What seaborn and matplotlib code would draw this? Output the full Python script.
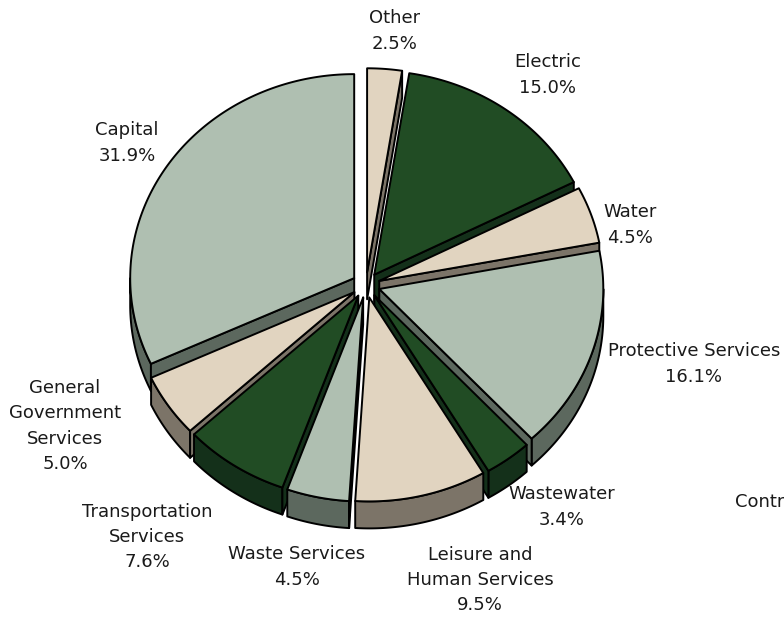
import numpy as np
import matplotlib
matplotlib.use("Agg")
import matplotlib.pyplot as plt
from matplotlib.patches import Polygon
import seaborn as sns

# Budget shares, listed clockwise from twelve o'clock
categories = ["Other", "Electric", "Water", "Protective Services", "Wastewater",
              "Leisure and\nHuman Services", "Waste Services",
              "Transportation\nServices", "General\nGovernment\nServices", "Capital"]
shares = [2.5, 15.0, 4.5, 16.1, 3.4, 9.5, 4.5, 7.6, 5.0, 31.9]
color_keys = ["beige", "green", "beige", "sage", "green",
              "beige", "sage", "green", "beige", "sage"]

sns.set_theme(style="white")
plt.rcParams["font.family"] = ["DejaVu Sans"]

face_palette = {"beige": "#E1D4C0", "green": "#214C24", "sage": "#AFBFB1"}
side_palette = {"beige": "#7C7468", "green": "#14301A", "sage": "#5C685E"}

# Layout of the tilted pie (pixel space, y grows downward)
CX, CY = 366.0, 285.0
RX, RY = 224.0, 204.0
DEPTH = 27.0
EXPLODE = 14.0
K = RY / RX

# Label anchors (centre of each text block)
label_pos = [(395, 31), (548, 75), (630, 225), (694, 364), (562, 507),
             (480, 580), (297, 567), (147, 537), (65, 426), (127, 143)]

fig = plt.figure(figsize=(7.84, 6.18), dpi=100)
ax = fig.add_axes([0, 0, 1, 1])
ax.set_xlim(0, 784)
ax.set_ylim(618, 0)
ax.axis("off")

LW = 1.4


def arc(t0, t1, ox, oy, dy=0.0):
    n = max(8, int(abs(t1 - t0) * 2))
    th = np.radians(np.linspace(t0, t1, n))
    return np.column_stack([CX + ox + RX * np.cos(th),
                            CY + oy + dy - RY * np.sin(th)])


def lower_parts(lo, hi):
    parts = []
    for k in (-2, -1, 0, 1):
        a = max(lo, -180 + 360 * k)
        b = min(hi, 360 * k)
        if b > a:
            parts.append((a, b))
    return parts


total = sum(shares)
starts, ends = [], []
cur = 90.0
for v in shares:
    span = 360.0 * v / total
    starts.append(cur)
    ends.append(cur - span)
    cur -= span

mids = [(s + e) / 2 for s, e in zip(starts, ends)]
order = sorted(range(len(shares)), key=lambda i: -np.sin(np.radians(mids[i])))

for i in order:
    ts, te, m = starts[i], ends[i], mids[i]
    ox = EXPLODE * np.cos(np.radians(m))
    oy = -EXPLODE * K * np.sin(np.radians(m))
    fc = face_palette[color_keys[i]]
    sc = side_palette[color_keys[i]]
    vx, vy = CX + ox, CY + oy

    # outer rim, only where it faces the viewer
    for a, b in lower_parts(te, ts):
        top = arc(a, b, ox, oy)
        bot = arc(b, a, ox, oy, DEPTH)
        ax.add_patch(Polygon(np.vstack([top, bot]), closed=True, fc=sc,
                             ec="black", lw=LW, joinstyle="round"))

    # radial walls that face the viewer
    for t, visible in ((ts, np.cos(np.radians(ts)) < 0),
                       (te, np.cos(np.radians(te)) > 0)):
        if not visible:
            continue
        px = vx + RX * np.cos(np.radians(t))
        py = vy - RY * np.sin(np.radians(t))
        quad = [(vx, vy), (px, py), (px, py + DEPTH), (vx, vy + DEPTH)]
        ax.add_patch(Polygon(quad, closed=True, fc=sc, ec="black", lw=LW,
                             joinstyle="round"))

    # top face
    pts = np.vstack([[vx, vy], arc(ts, te, ox, oy)])
    ax.add_patch(Polygon(pts, closed=True, fc=fc, ec="black", lw=LW,
                         joinstyle="round"))

for name, v, (lx, ly) in zip(categories, shares, label_pos):
    ax.text(lx, ly, f"{name}\n{v:.1f}%", ha="center", va="center",
            multialignment="center", fontsize=13, color="#1a1a1a",
            linespacing=1.52)

ax.text(735, 502, "Contributions", ha="left", va="center", fontsize=13,
        color="#1a1a1a")

fig.savefig("out.png", dpi=100)
